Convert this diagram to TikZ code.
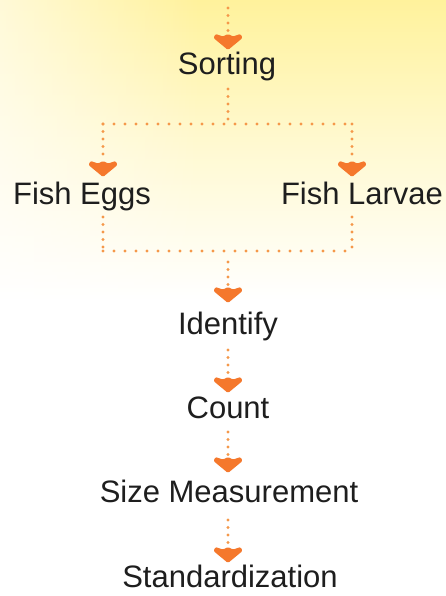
\documentclass[tikz,border=0pt]{standalone}
\usepackage{fontspec}
\setmainfont{Liberation Sans}
\usetikzlibrary{fadings}
\definecolor{orng}{HTML}{F5782C}
\definecolor{dotc}{HTML}{F5984A}
\definecolor{txt}{HTML}{1E1E1E}
\definecolor{yel}{HTML}{FFF29C}
\tikzfading[name=fadeR, left color=transparent!0, right color=transparent!100]
\tikzset{
 lbl/.style={anchor=base, inner sep=0pt, text=txt, font=\fontsize{31}{36}\selectfont},
 dv/.style={draw=dotc, line width=3.2pt, line cap=round, dash pattern=on 0pt off 7.5pt},
 dh/.style={draw=dotc, line width=3.2pt, line cap=round, dash pattern=on 0pt off 11pt},
 flow/.style={dv, shorten >=18pt},
 chev/.pic={\fill[orng, rounded corners=1.2pt] (0,0) -- (-14.5,-12) -- (-12.5,-16) -- (-5,-13.5) -- (0,-16) -- (5,-13.5) -- (12.5,-16) -- (14.5,-12) -- cycle;}
}
\begin{document}
\begin{tikzpicture}[x=1pt,y=-1pt]
\useasboundingbox (0,0) rectangle (446,596);
\fill[white] (0,0) rectangle (446,596);
\shade[top color=yel, bottom color=white, middle color=yel!45] (0,0) rectangle (446,300);
\fill[white, fill opacity=0.6, path fading=fadeR] (0,0) rectangle (200,300);

% labels
\node[lbl] (sort) at (227,75) {Sorting};
\node[lbl] (eggs) at (82,204) {Fish Eggs};
\node[lbl] (larv) at (362,204) {Fish Larvae};
\node[lbl] (iden) at (228,334) {Identify};
\node[lbl] (cnt) at (228,418) {Count};
\node[lbl] (size) at (229,502) {Size Measurement};
\node[lbl] (std) at (230,587) {Standardization};

% connector points
\coordinate (s0) at (228,8);   \coordinate (tS) at (228,50);
\coordinate (s1) at (228,89);  \coordinate (j1) at (228,124);
\coordinate (jl) at (103,124); \coordinate (jr) at (352,124);
\coordinate (tE) at (103,177); \coordinate (tL) at (352,177);
\coordinate (b1) at (103,217); \coordinate (b2) at (103,251);
\coordinate (b3) at (352,251); \coordinate (b4) at (352,217);
\coordinate (s2) at (228,262); \coordinate (tI) at (228,303);
\coordinate (s3) at (228,350); \coordinate (tC) at (228,393);
\coordinate (s4) at (228,432); \coordinate (tM) at (228,473);
\coordinate (s5) at (228,520); \coordinate (tD) at (228,563);

% connectors
\draw[flow] (s0) -- (tS);
\draw[dv] (s1) -- (j1);
\draw[dh] (jl) -- (jr);
\draw[flow] (jl) -- (tE);
\draw[flow] (jr) -- (tL);
\draw[dv] (b1) -- (b2);
\draw[dh] (b2) -- (b3);
\draw[dv] (b4) -- (b3);
\draw[flow] (s2) -- (tI);
\draw[flow] (s3) -- (tC);
\draw[flow] (s4) -- (tM);
\draw[flow] (s5) -- (tD);

% arrowheads
\pic at (tS) {chev};
\pic at (tE) {chev};
\pic at (tL) {chev};
\pic at (tI) {chev};
\pic at (tC) {chev};
\pic at (tM) {chev};
\pic at (tD) {chev};
\end{tikzpicture}
\end{document}
